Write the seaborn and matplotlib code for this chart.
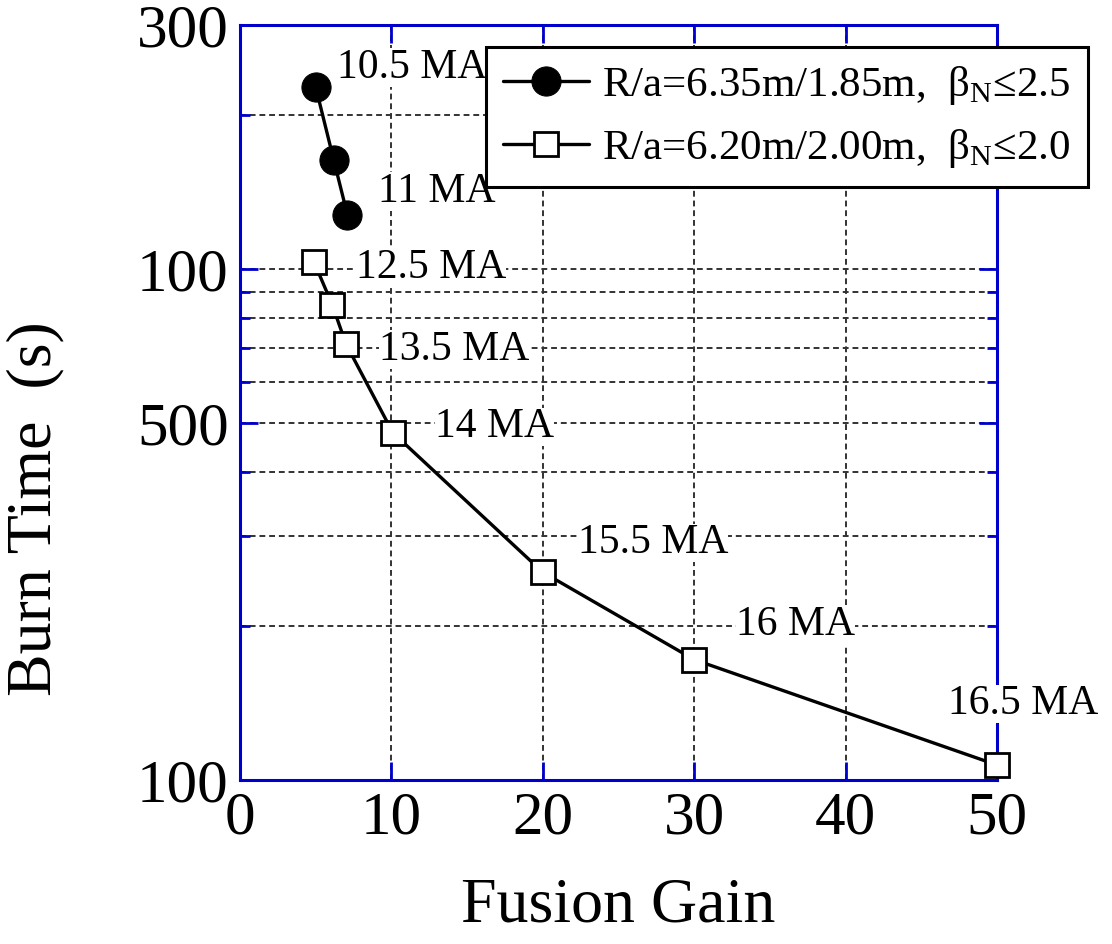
import matplotlib
matplotlib.use("Agg")
import matplotlib.pyplot as plt
import matplotlib.ticker as mticker
import seaborn as sns

# R/a = 6.35m/1.85m, beta_N <= 2.5
gain_a = [5.0, 6.2, 7.1]
burn_a = [2270, 1630, 1275]
label_a = ["10.5 MA", "", "11 MA"]

# R/a = 6.20m/2.00m, beta_N <= 2.0
gain_b = [4.9, 6.1, 7.0, 10.1, 20.0, 30.0, 50.0]
burn_b = [1030, 850, 713, 478, 255, 172, 107]
label_b = ["12.5 MA", "", "13.5 MA", "14 MA", "15.5 MA", "16 MA", "16.5 MA"]

yticks = [100, 500, 1000, 3000]
yticklabels = ["100", "500", "100", "300"]
xticks = [0, 10, 20, 30, 40, 50]

sns.set_style("white")
plt.rcParams["font.family"] = ["Liberation Serif", "DejaVu Serif"]
plt.rcParams["mathtext.fontset"] = "custom"
plt.rcParams["mathtext.rm"] = "Liberation Serif"
plt.rcParams["text.color"] = "black"
plt.rcParams["axes.labelcolor"] = "black"
plt.rcParams["xtick.color"] = "black"
plt.rcParams["ytick.color"] = "black"

blue = "#0000cc"

fig = plt.figure(figsize=(11.12, 9.44), dpi=100)
ax = fig.add_axes([0.2158, 0.1737, 0.6808, 0.7998])

sns.lineplot(x=gain_a, y=burn_a, ax=ax, sort=False, color="black", lw=2.4,
             marker="o", markersize=21, markerfacecolor="black",
             markeredgecolor="black", clip_on=False,
             label=r"R/a=6.35m/1.85m,  β$_\mathregular{N}$≤2.5", zorder=5)
sns.lineplot(x=gain_b, y=burn_b, ax=ax, sort=False, color="black", lw=2.4,
             marker="s", markersize=17, markerfacecolor="white",
             markeredgecolor="black", markeredgewidth=2, clip_on=False,
             label=r"R/a=6.20m/2.00m,  β$_\mathregular{N}$≤2.0", zorder=5)

ax.set_yscale("log")
ax.set_xlim(0, 50)
ax.set_ylim(100, 3000)
ax.set_xticks(xticks)
ax.set_yticks(yticks)
ax.set_yticklabels(yticklabels)
ax.yaxis.set_minor_locator(mticker.LogLocator(base=10, subs=range(2, 10)))
ax.yaxis.set_minor_formatter(mticker.NullFormatter())

ax.grid(True, which="both", axis="y", ls=(0, (3, 2)), color="0.2", lw=1.4)
ax.grid(True, which="major", axis="x", ls=(0, (3, 2)), color="0.2", lw=1.4)

ax.tick_params(which="both", direction="in", color=blue, labelcolor="black",
               left=True, bottom=True, top=True, right=True,
               labelsize=44, pad=8)
ax.tick_params(which="major", length=13, width=2)
ax.tick_params(which="minor", length=7, width=2)
for s in ax.spines.values():
    s.set_color(blue)
    s.set_linewidth(2.2)
    s.set_visible(True)

ax.set_xlabel("Fusion Gain", fontsize=46, labelpad=22)
ax.set_ylabel("Burn Time  (s)", fontsize=46)
ax.yaxis.set_label_coords(-0.232, 0.36)

# point labels (offsets in points)
offs_a = [(15, 14), (0, 0), (22, 17)]
offs_b = [(30, -4), (0, 0), (24, -4), (30, 4), (25, 21), (30, 25), (-35, 44)]
for xs, ys, labs, offs in [(gain_a, burn_a, label_a, offs_a),
                           (gain_b, burn_b, label_b, offs_b)]:
    for x, y, t, o in zip(xs, ys, labs, offs):
        if t:
            ax.annotate(t, (x, y), xytext=o, textcoords="offset points",
                        fontsize=30, ha="left", va="center", zorder=4,
                        bbox=dict(facecolor="white", edgecolor="none", pad=0))

leg = ax.legend(loc="upper right", bbox_to_anchor=(0.9784, 0.9502),
                bbox_transform=fig.transFigure, fontsize=31, frameon=True,
                fancybox=False, framealpha=1, edgecolor="black",
                handlelength=2.0, handletextpad=0.3, borderpad=0.4,
                labelspacing=0.45, borderaxespad=0)
leg.get_frame().set_linewidth(2.2)
leg.set_zorder(10)

fig.savefig("out.png", dpi=100)
